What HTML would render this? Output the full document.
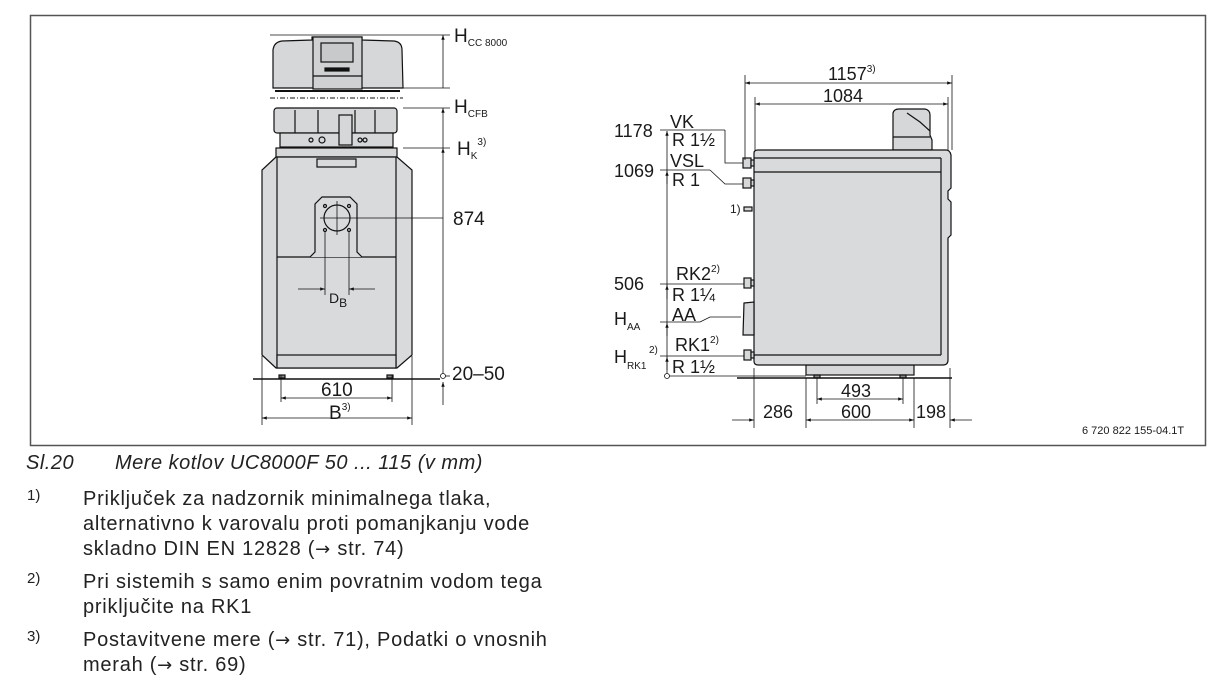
<!DOCTYPE html>
<html><head><meta charset="utf-8"><style>
html,body{margin:0;padding:0;background:#fff;width:1229px;height:690px;overflow:hidden}
svg text{font-family:"Liberation Sans",sans-serif;fill:#1a1a1a}
.t{position:absolute;font-family:"Liberation Sans",sans-serif;color:#222;font-size:20px;line-height:25px;letter-spacing:0.75px;white-space:nowrap}
.ar{font-family:"DejaVu Sans",sans-serif;font-size:18px}
</style></head><body>
<svg width="1229" height="690" style="position:absolute;left:0;top:0">
<defs>
<marker id="a" viewBox="0 0 10 10" refX="10" refY="5" markerWidth="8" markerHeight="6" orient="auto-start-reverse"><path d="M0,1.5 L10,5 L0,8.5z" fill="#111"/></marker>
</defs>
<rect x="30.5" y="15.5" width="1175" height="430" fill="none" stroke="#555" stroke-width="1.5"/>
<g stroke="#111" stroke-width="1.2" fill="none">
<path d="M273,88 L273,50 Q274,42 282,41 L312,40 L312,37 L362,37 L362,40 L394,41 Q402,42 402,50 L403,88 Z" fill="#d6d7d9"/>
<rect x="313" y="37" width="49" height="52" fill="#d0d1d3"/>
<rect x="321" y="43" width="32" height="19" fill="#c8c9cb"/>
<rect x="325" y="68" width="24" height="3" fill="#111"/>
<line x1="313" y1="76" x2="362" y2="76"/>
<line x1="270" y1="98" x2="403" y2="98" stroke-dasharray="5,2,1,2" stroke-width="1"/>
<line x1="275" y1="91" x2="400" y2="91" stroke-width="2"/>
<rect x="274" y="108" width="123" height="25" rx="3" fill="#d6d7d9"/>
<rect x="280" y="133" width="113" height="14" fill="#d6d7d9"/>
<line x1="295" y1="110" x2="295" y2="133"/><line x1="318" y1="110" x2="318" y2="133"/><line x1="355" y1="110" x2="355" y2="133"/><line x1="375" y1="110" x2="375" y2="133"/>
<rect x="339" y="115" width="13" height="30" fill="#d6d7d9"/>
<circle cx="322" cy="140" r="3"/><circle cx="311" cy="140" r="2"/><circle cx="360" cy="140" r="2"/><circle cx="365" cy="140" r="2"/>
<rect x="276" y="148" width="121" height="9" fill="#d6d7d9"/>
<path d="M276,157 L262,170 L262,355 L276,368 L397,368 L412,355 L412,170 L397,157 Z" fill="#d9dadc"/>
<line x1="277" y1="157" x2="277" y2="368"/><line x1="396" y1="157" x2="396" y2="368"/>
<rect x="317" y="159" width="39" height="8"/>
<line x1="277" y1="257" x2="396" y2="257"/>
<rect x="277" y="355" width="119" height="13" fill="#d6d7d9"/>
<path d="M310,257 L315,252 L315,204 L322,197 L350,197 L357,204 L357,252 L362,257" fill="#d9dadc"/>
<circle cx="337" cy="218" r="13"/>
<line x1="337" y1="201" x2="337" y2="235" stroke-width="0.8"/><line x1="320" y1="218" x2="354" y2="218" stroke-width="0.8"/>
<circle cx="325" cy="206" r="1.5"/><circle cx="349" cy="206" r="1.5"/><circle cx="325" cy="230" r="1.5"/><circle cx="349" cy="230" r="1.5"/>
<line x1="325" y1="232" x2="325" y2="295" stroke-width="0.8"/><line x1="349" y1="232" x2="349" y2="295" stroke-width="0.8"/>
<line x1="298" y1="289" x2="325" y2="289" stroke-width="0.8" marker-end="url(#a)"/>
<line x1="375" y1="289" x2="349" y2="289" stroke-width="0.8" marker-end="url(#a)"/>
<line x1="354" y1="218" x2="443" y2="218" stroke-width="0.8"/>
<rect x="279" y="375" width="6" height="3" fill="#888"/><rect x="387" y="375" width="6" height="3" fill="#888"/>
<line x1="253" y1="379" x2="440" y2="379" stroke-width="1.5"/>
<g stroke-width="0.8">
<line x1="270" y1="35" x2="450" y2="35"/><line x1="403" y1="88" x2="450" y2="88"/>
<line x1="403" y1="108" x2="450" y2="108"/><line x1="403" y1="148" x2="450" y2="148"/>
<line x1="443" y1="88" x2="443" y2="35" marker-end="url(#a)"/>
<line x1="443" y1="148" x2="443" y2="108" marker-end="url(#a)"/>
<line x1="443" y1="210" x2="443" y2="148" marker-end="url(#a)"/>
<line x1="443" y1="226" x2="443" y2="376" />
<line x1="443" y1="226" x2="443" y2="210"/>
<line x1="443" y1="405" x2="443" y2="382" marker-end="url(#a)"/>
<line x1="443" y1="376" x2="450" y2="376"/>
<circle cx="443" cy="376" r="2.5" fill="#fff"/>
<line x1="281" y1="375" x2="281" y2="402"/><line x1="392" y1="375" x2="392" y2="402"/>
<line x1="281" y1="398" x2="392" y2="398" marker-start="url(#a)" marker-end="url(#a)"/>
<line x1="262" y1="356" x2="262" y2="425"/><line x1="412" y1="356" x2="412" y2="425"/>
<line x1="262" y1="418" x2="412" y2="418" marker-start="url(#a)" marker-end="url(#a)"/>
</g>
<path d="M893,150 L893,113 Q894,109 899,109 L925,109 Q930,110 930,115 L930,135 L932,140 L932,150 Z" fill="#d6d7d9"/>
<path d="M907,113 L920,122 L930,131" /><line x1="893" y1="137" x2="930" y2="137"/>
<rect x="806" y="365" width="108" height="10" fill="#d6d7d9"/>
<path d="M754,153 Q754,150 758,150 L946,150 Q950,150 951,155 L951,188 L948,191 L948,199 L951,202 L951,235 L948,238 L948,360 Q948,365 943,365 L758,365 Q754,365 754,361 Z" fill="#d9dadc"/>
<line x1="941" y1="158" x2="941" y2="355"/>
<line x1="754" y1="158" x2="941" y2="158"/><line x1="754" y1="172" x2="941" y2="172"/><line x1="754" y1="355" x2="941" y2="355"/>
<g fill="#d6d7d9"><rect x="743" y="158" width="8" height="10"/><rect x="743" y="178" width="8" height="10"/><rect x="744" y="278" width="7" height="10"/><rect x="744" y="350" width="7" height="10"/><rect x="744" y="207" width="8" height="4"/>
<rect x="751" y="160" width="3" height="6"/><rect x="751" y="180" width="3" height="6"/><rect x="751" y="280" width="3" height="6"/><rect x="751" y="352" width="3" height="6"/>
<path d="M744,303 L754,302 L754,335 L743,335 Z"/></g>
<rect x="814" y="375" width="6" height="3" fill="#888"/><rect x="900" y="375" width="6" height="3" fill="#888"/>
<line x1="737" y1="378" x2="952" y2="378" stroke-width="1.5"/>
<g stroke-width="0.8">
<line x1="660" y1="130" x2="725" y2="130"/><path d="M725,130 L725,163 L743,163"/>
<line x1="660" y1="170" x2="710" y2="170"/><path d="M710,170 L725,184 L743,184"/>
<line x1="660" y1="284" x2="744" y2="284"/>
<line x1="660" y1="322" x2="700" y2="322"/><path d="M700,322 L710,317 L741,317"/>
<line x1="660" y1="356" x2="744" y2="356"/>
<line x1="667" y1="376" x2="806" y2="376"/>
<line x1="667" y1="376" x2="667" y2="131" marker-end="url(#a)"/>
<line x1="667" y1="184" x2="667" y2="171" marker-end="url(#a)"/>
<line x1="667" y1="299" x2="667" y2="285" marker-end="url(#a)"/>
<line x1="667" y1="336" x2="667" y2="323" marker-end="url(#a)"/>
<line x1="667" y1="370" x2="667" y2="357" marker-end="url(#a)"/>
<circle cx="667" cy="376" r="2.5" fill="#fff"/>
<line x1="745" y1="75" x2="745" y2="160"/><line x1="952" y1="75" x2="952" y2="150"/>
<line x1="745" y1="83" x2="952" y2="83" marker-start="url(#a)" marker-end="url(#a)"/>
<line x1="755" y1="97" x2="755" y2="150"/><line x1="948" y1="97" x2="948" y2="150"/>
<line x1="755" y1="104" x2="948" y2="104" marker-start="url(#a)" marker-end="url(#a)"/>
<line x1="754" y1="368" x2="754" y2="428"/><line x1="806" y1="378" x2="806" y2="428"/><line x1="914" y1="378" x2="914" y2="428"/><line x1="950" y1="368" x2="950" y2="428"/>
<line x1="817" y1="378" x2="817" y2="404"/><line x1="903" y1="378" x2="903" y2="404"/>
<line x1="817" y1="399" x2="903" y2="399" marker-start="url(#a)" marker-end="url(#a)"/>
<line x1="732" y1="420" x2="754" y2="420" marker-end="url(#a)"/>
<line x1="806" y1="420" x2="914" y2="420" marker-start="url(#a)" marker-end="url(#a)"/>
<line x1="972" y1="420" x2="950" y2="420" marker-end="url(#a)"/>
</g>
</g>
<text x="454" y="42" font-size="19">H<tspan font-size="10" dy="4">CC 8000</tspan></text>
<text x="454" y="113" font-size="19">H<tspan font-size="10" dy="4">CFB</tspan></text>
<text x="457" y="155" font-size="19">H<tspan font-size="10" dy="4">K</tspan><tspan font-size="10" dy="-14">3)</tspan></text>
<text x="453" y="225" font-size="19">874</text>
<text x="452" y="380" font-size="19">20–50</text>
<text x="329" y="303" font-size="14">D<tspan font-size="12" dy="4">B</tspan></text>
<text x="321" y="396" font-size="19">610</text>
<text x="329" y="419" font-size="19">B<tspan font-size="10" dy="-9">3)</tspan></text>
<g font-size="18">
<text x="828" y="80">1157<tspan font-size="10" dy="-8">3)</tspan></text>
<text x="823" y="102">1084</text>
<text x="614" y="137">1178</text><text x="670" y="128">VK</text><text x="672" y="146">R 1½</text>
<text x="614" y="177">1069</text><text x="670" y="167">VSL</text><text x="672" y="186">R 1</text>
<text x="730" y="213" font-size="12">1)</text>
<text x="614" y="290">506</text><text x="676" y="280">RK2<tspan font-size="10" dy="-8">2)</tspan></text><text x="672" y="301">R 1¼</text>
<text x="614" y="325">H<tspan font-size="10" dy="5">AA</tspan></text><text x="672" y="321">AA</text>
<text x="675" y="351">RK1<tspan font-size="10" dy="-8">2)</tspan></text><text x="672" y="373">R 1½</text>
<text x="614" y="363">H<tspan font-size="10" dy="6">RK1</tspan></text><text x="649" y="353" font-size="10">2)</text>
<text x="841" y="397">493</text>
<text x="763" y="418">286</text><text x="841" y="418">600</text><text x="916" y="418">198</text>
</g>
<text x="1082" y="434" font-size="11">6 720 822 155-04.1T</text>
</svg>
<div class="t" style="left:26px;top:451px;font-style:italic;letter-spacing:0.5px">Sl.20</div>
<div class="t" style="left:115px;top:451px;font-style:italic;letter-spacing:0.5px">Mere kotlov UC8000F 50 ... 115 (v mm)</div>
<div class="t" style="left:27px;top:483px;font-size:15px;letter-spacing:0">1)</div>
<div class="t" style="left:83px;top:487px">Priključek za nadzornik minimalnega tlaka,<br>alternativno k varovalu proti pomanjkanju vode<br>skladno DIN EN 12828 (<span class="ar">→</span> str. 74)</div>
<div class="t" style="left:27px;top:566px;font-size:15px;letter-spacing:0">2)</div>
<div class="t" style="left:83px;top:570px">Pri sistemih s samo enim povratnim vodom tega<br>priključite na RK1</div>
<div class="t" style="left:27px;top:624px;font-size:15px;letter-spacing:0">3)</div>
<div class="t" style="left:83px;top:628px">Postavitvene mere (<span class="ar">→</span> str. 71), Podatki o vnosnih<br>merah (<span class="ar">→</span> str. 69)</div>
</body></html>
